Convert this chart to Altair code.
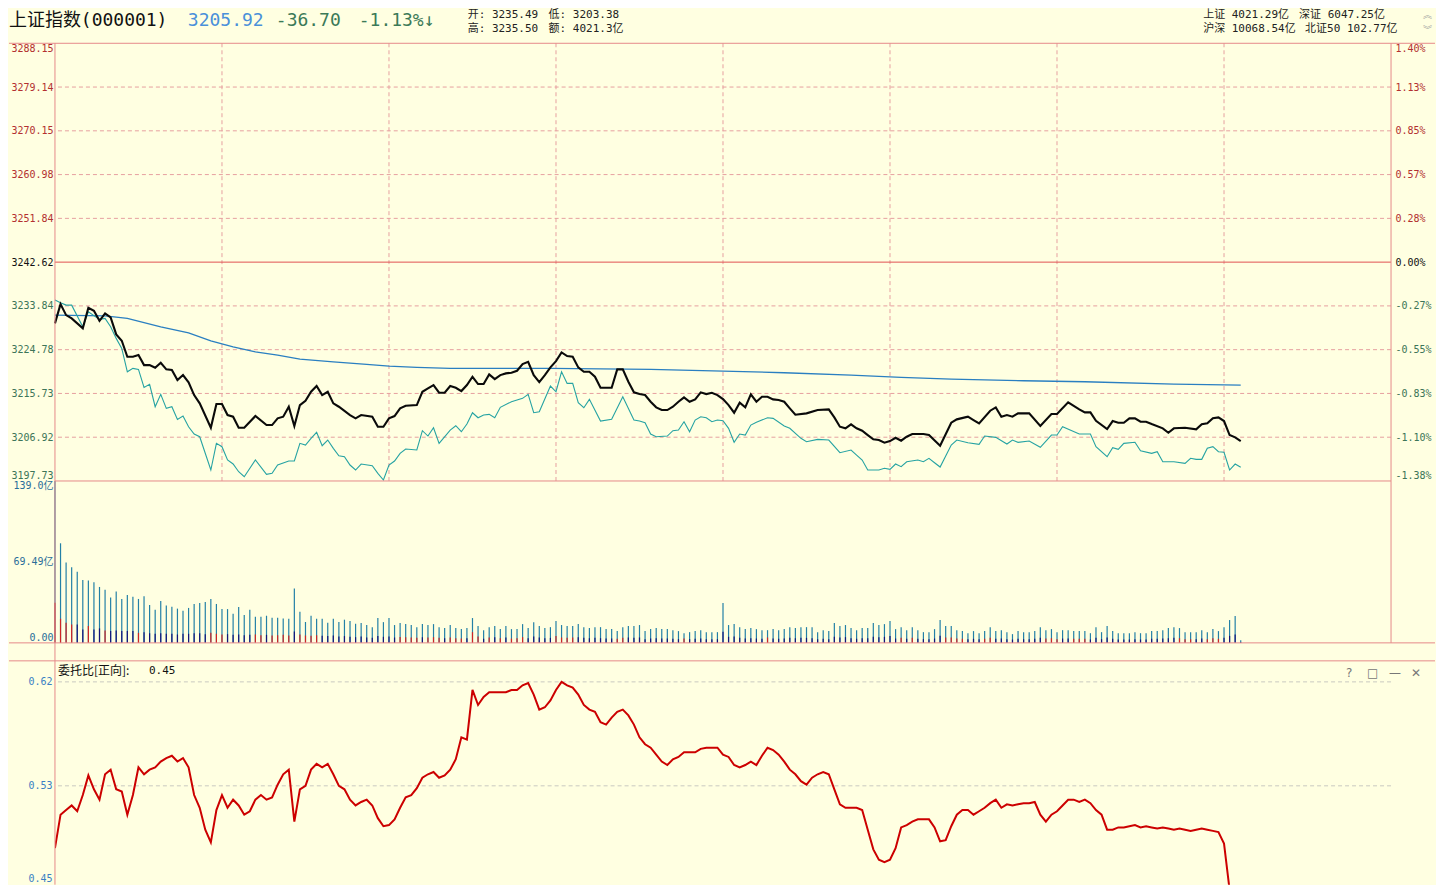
import altair as alt
import pandas as pd

# ---------------- values ----------------
REF_CLOSE = 3242.62
LAST = 3205.92
OPEN_P, HIGH_P, LOW_P = 3235.49, 3235.50, 3203.38
AMOUNT = "4021.3亿"
RATIO_NOW = 0.45
market_row1 = ["上证 4021.29亿", "深证 6047.25亿"]
market_row2 = ["沪深 10068.54亿", "北证50 102.77亿"]

price_labels = ["3197.73", "3206.92", "3215.73", "3224.78", "3233.84", "3242.62",
                "3251.84", "3260.98", "3270.15", "3279.14", "3288.15"]
pct_labels = ["-1.38%", "-1.10%", "-0.83%", "-0.55%", "-0.27%", "0.00%",
              "0.28%", "0.57%", "0.85%", "1.13%", "1.40%"]

black_min = [0, 1, 2, 3, 5, 6, 7, 8, 9, 10, 11, 12, 13, 14, 15, 16, 17, 18, 19, 20,
             21, 22, 23, 24, 25, 26, 28, 29, 30, 31, 32, 33, 34, 36, 38, 39, 40, 41, 42, 43,
             44, 45, 46, 47, 48, 49, 50, 51, 53, 54, 55, 57, 58, 59, 60, 61, 62, 63, 65, 66,
             67, 68, 69, 70, 71,
             72, 73, 74, 75, 76, 77, 78, 79, 80, 81, 82, 83, 84, 85, 86, 87, 88, 89, 90, 91,
             92, 93, 94, 95, 96, 97, 98,
             100, 101, 102, 103, 104, 105, 106, 107, 108, 109, 110, 111, 112, 113, 114, 115,
             116, 117, 118, 119, 120, 121, 122, 123, 124, 125, 126, 127, 128, 129, 130, 131,
             132, 133, 135, 137, 139,
             140, 141, 142, 143, 144, 145, 146, 147, 148, 149, 150, 151, 152, 153, 154,
             156, 157, 159,
             161, 162, 164, 165, 166, 168, 169, 170, 171, 172, 173, 175, 177, 179, 180,
             182, 184, 185, 186, 187, 189, 190, 191, 192, 193, 194, 195, 196, 197, 199,
             200, 201, 203, 205, 206, 207, 208, 209, 210, 211, 212, 213]
black_px = [3230.05, 3234.01, 3231.75, 3231.08, 3229.03, 3233.25, 3232.64, 3230.59, 3232.10, 3231.28,
            3227.80, 3226.49, 3223.21, 3223.21, 3223.55, 3221.50, 3221.50, 3220.95, 3221.98, 3220.62,
            3220.48, 3218.43, 3219.45, 3217.96, 3215.35, 3213.65, 3208.65, 3213.51, 3213.51, 3211.25,
            3210.91, 3208.65, 3208.65, 3211.05, 3209.20, 3209.20, 3210.58, 3210.91, 3212.96, 3209.00,
            3213.30, 3214.19, 3216.03, 3217.20, 3215.35, 3216.03, 3213.65, 3212.96, 3211.25, 3210.58,
            3211.25, 3210.91, 3208.86, 3208.86, 3210.58, 3211.05, 3212.63, 3213.16, 3213.30, 3216.03,
            3216.73, 3217.40, 3215.83, 3215.83, 3217.20,
            3216.85, 3216.17, 3217.40, 3219.11, 3217.61, 3217.61, 3219.60, 3218.63, 3219.45, 3219.80,
            3219.93, 3220.34, 3221.71, 3222.18, 3219.45, 3218.02, 3219.45, 3221.03, 3222.32, 3224.11,
            3223.35, 3223.21, 3221.03, 3220.13, 3220.13, 3219.11, 3216.85,
            3216.85, 3220.62, 3220.62, 3218.08, 3215.91, 3215.56, 3215.35, 3213.98, 3212.83, 3212.28,
            3212.28, 3212.96, 3213.98, 3214.88, 3213.98, 3214.47, 3215.91, 3215.56, 3215.83, 3215.35,
            3214.53, 3213.30, 3211.73, 3213.78, 3212.83, 3215.50, 3213.98, 3215.01, 3215.01, 3214.47,
            3214.33, 3213.98, 3212.63, 3211.32, 3211.60, 3212.28, 3212.42,
            3210.78, 3208.86, 3208.53, 3209.35, 3208.53, 3208.04, 3207.15, 3206.27, 3206.13, 3205.58,
            3205.92, 3206.60, 3205.99, 3206.81, 3207.36, 3207.36, 3207.15, 3204.96,
            3209.68, 3210.37, 3210.91, 3210.23, 3209.55, 3212.14, 3212.83, 3210.91, 3211.25, 3210.91,
            3211.60, 3211.60, 3209.00, 3211.46, 3211.46, 3213.86, 3212.42, 3211.81, 3211.81, 3210.09,
            3208.38, 3210.02, 3209.68, 3209.68, 3210.58, 3210.58, 3209.88, 3209.88, 3209.41, 3208.53,
            3207.63, 3208.53, 3208.65, 3208.32, 3209.35, 3209.55, 3210.58, 3210.78, 3210.02, 3207.15,
            3206.68, 3205.92]

cyan_min = [0, 1, 2, 3, 5, 6, 8, 9, 10, 11, 12, 13, 14, 15, 16, 17, 18, 19, 20, 21,
            22, 23, 24, 25, 26, 28, 29, 30, 31, 32, 33, 34, 36, 38, 39, 40, 42, 43, 44, 45,
            46, 47, 48, 49, 50, 51, 52, 53, 54, 55, 57, 58, 59, 60, 61, 62, 63, 65, 66, 67,
            68, 69, 71,
            72, 73, 74, 75, 76, 77, 78, 79, 80, 82, 84, 85, 86, 87, 89, 90, 91, 92, 93, 94,
            95, 96, 98, 100, 102, 104, 105, 106, 107, 108, 110, 111, 112, 113, 114, 115, 116, 117,
            118, 119, 120, 121, 122, 123, 124, 125, 126, 128, 129, 131, 132, 134, 135, 137, 139,
            141, 143, 144, 145, 146, 148, 149, 150, 151, 152, 153, 155, 156, 157, 158, 159,
            161, 162, 164, 166, 167, 169, 171, 172, 173, 175, 177, 179, 180, 181, 184, 186, 187,
            189, 190, 191, 192, 194, 195, 197, 198, 199, 201, 203, 204, 205, 206, 207, 208, 209,
            210, 211, 212, 213]
cyan_px = [3234.83, 3234.28, 3233.80, 3233.80, 3229.36, 3232.43, 3230.87, 3231.08, 3229.36, 3226.98,
           3224.93, 3220.13, 3220.83, 3220.62, 3216.93, 3217.55, 3212.96, 3215.50, 3212.63, 3212.96,
           3210.37, 3211.05, 3208.86, 3207.36, 3206.81, 3199.98, 3205.45, 3204.76, 3202.03, 3201.21,
           3199.63, 3198.61, 3202.03, 3199.10, 3199.30, 3201.00, 3201.82, 3201.82, 3205.45, 3205.10,
           3206.48, 3207.71, 3204.96, 3206.13, 3204.43, 3202.91, 3202.71, 3201.00, 3199.98, 3201.21,
           3200.86, 3199.30, 3197.93, 3201.00, 3201.82, 3203.40, 3204.28, 3204.08, 3208.04, 3206.95,
           3208.65, 3205.45, 3208.18,
           3209.06, 3207.83, 3209.41, 3211.73, 3210.70, 3211.25, 3211.40, 3210.70, 3212.83, 3213.98,
           3214.68, 3215.50, 3211.73, 3211.93, 3217.20, 3216.03, 3220.13, 3217.75, 3217.75, 3213.78,
           3212.75, 3214.47, 3210.02, 3210.37, 3215.01, 3210.23, 3210.02, 3209.68, 3207.36, 3206.81,
           3206.95, 3208.04, 3208.18, 3209.88, 3207.83, 3210.23, 3210.91, 3210.70, 3209.88, 3210.23,
           3210.09, 3208.53, 3205.66, 3207.36, 3207.15, 3209.20, 3209.76, 3210.70, 3210.58, 3209.00,
           3208.53, 3206.48, 3205.78, 3206.27, 3206.13, 3203.53, 3204.08, 3203.05, 3202.03, 3199.98,
           3199.98, 3200.33, 3200.12, 3201.21, 3200.66, 3201.68, 3202.03, 3201.68, 3202.38, 3201.48,
           3200.59,
           3205.10, 3206.13, 3205.58, 3205.25, 3206.95, 3206.68, 3205.31, 3206.13, 3205.66, 3205.92,
           3204.63, 3207.15, 3207.15, 3208.86, 3207.36, 3207.36, 3204.76, 3202.71, 3204.55, 3204.22,
           3205.45, 3205.66, 3203.94, 3203.40, 3203.73, 3201.68, 3201.68, 3201.35, 3202.38, 3202.17,
           3202.17, 3204.43, 3204.76, 3203.73, 3203.61, 3199.98, 3201.21, 3200.53]

avg_min = [0, 9, 13, 19, 24, 28, 32, 36, 40, 44, 50, 56, 60, 65, 71, 89, 107, 120, 131,
           143, 152, 161, 174, 185, 201, 213]
avg_px = [3231.75, 3231.61, 3231.08, 3229.36, 3228.13, 3226.49, 3225.26, 3224.23, 3223.55,
          3222.73, 3222.18, 3221.65, 3221.30, 3221.03, 3220.83, 3220.83, 3220.62, 3220.27,
          3219.93, 3219.45, 3218.98, 3218.63, 3218.29, 3218.08, 3217.61, 3217.40]

# per-minute turnover (亿), minute 0 .. 213
vol_amt = [139.0, 85.5, 69.0, 65.0, 61.0, 54.0, 53.5, 52.0, 48.0, 45.5, 39.0, 44.0, 37.7, 41.0,
           39.5, 37.7, 40.0, 32.5, 28.5, 36.0, 32.0, 31.0, 29.4, 27.6, 30.0, 33.4, 34.3, 35.0,
           37.7, 33.4, 29.0, 29.0, 25.0, 30.8, 24.0, 28.5, 22.5, 22.5, 23.3, 21.6, 21.6, 21.0,
           20.7, 46.6, 26.8, 17.9, 23.3, 20.7, 20.7, 17.3, 20.7, 18.0, 19.9,
           18.7, 16.4, 17.0, 15.3, 13.5, 21.3, 17.8, 21.3, 15.3, 17.0, 16.1, 15.3, 13.5, 16.1,
           15.3, 16.1, 13.5, 12.7, 15.3, 12.7, 11.8, 12.7, 21.3, 14.4, 10.9, 13.5, 14.4, 11.8,
           14.4, 11.8, 11.8, 16.1, 12.7, 17.8, 14.4, 12.7, 13.5, 18.7, 15.3, 14.4, 14.4, 16.1,
           13.5, 12.7, 13.5, 13.5, 11.8, 11.8, 10.1, 13.5, 14.4, 14.4, 15.3, 10.1,
           11.8, 12.7, 11.8, 11.8, 10.9, 10.1, 8.3, 9.2, 10.1, 10.9, 9.2, 9.2, 9.2, 34.3, 15.3,
           16.1, 13.5, 11.8, 12.7, 11.8, 10.9, 10.9, 11.8, 10.9, 11.8, 13.5, 12.7, 13.5, 13.5,
           13.5, 9.2, 10.9, 10.1, 17.0, 14.4, 15.3, 12.7, 10.9, 12.7, 12.7, 17.0, 15.3, 16.1,
           18.7, 11.8, 13.5, 10.9, 13.5, 10.9, 9.2, 9.2, 11.8, 19.6,
           14.4, 14.4, 10.9, 10.1, 8.3, 10.1, 8.3, 10.1, 13.5, 10.1, 10.9, 9.2, 7.5, 10.1, 9.2,
           9.2, 10.1, 13.5, 10.9, 11.8, 9.2, 10.9, 10.9, 10.1, 10.1, 10.1, 8.3, 13.5, 9.2, 14.4,
           10.1, 8.3, 8.3, 8.3, 9.2, 8.3, 8.3, 10.1, 10.1, 10.9, 12.7, 13.5, 12.7, 9.2, 9.2, 9.2,
           10.9, 9.2, 11.8, 10.1, 13.5, 19.6, 23.0, 2.3]
# lower (dark) part of each volume bar
flow_amt = [34.5, 20.7, 17.3, 15.8, 15.8, 11.5, 14.4, 11.5, 12.4, 10.7, 10.1, 10.7, 10.1, 10.1,
            10.1, 8.6, 9.2, 8.3, 7.8, 8.3, 7.8, 7.8, 7.2, 7.8, 7.8, 8.3, 8.3,
            7.5, 8.6, 7.8, 7.2, 7.5, 6.9, 7.2, 6.6, 6.9, 7.2, 6.6, 6.9, 6.3, 6.6, 6.9, 6.3, 9.8,
            7.2, 6.3, 6.0, 6.6, 6.0, 5.8, 6.3, 5.5, 5.8,
            5.2, 4.9, 5.5, 4.6, 4.3, 5.8, 5.2, 5.5, 4.6, 5.0, 4.9, 4.6, 4.3, 4.9, 4.6, 4.9, 4.3,
            4.0, 4.6, 4.0, 3.7, 4.0, 9.2, 5.5, 3.5, 4.6, 4.9, 4.0, 4.6, 3.7, 4.0, 4.9, 4.0, 5.5,
            4.6, 4.0, 4.3, 5.8, 4.6, 4.3, 4.6, 4.9, 4.3, 4.0, 4.3, 4.0, 3.7, 3.7, 3.5, 4.3, 4.6,
            4.3, 4.6, 3.2,
            3.7, 4.0, 3.7, 3.7, 3.5, 3.2, 3.7, 3.2, 3.5, 3.7, 3.2, 3.2, 3.2, 9.5, 5.2, 5.5, 4.3,
            3.7, 4.0, 3.7, 3.5, 4.6, 3.7, 3.5, 3.7, 4.3, 4.0, 4.3, 4.3, 4.0, 3.2, 3.5, 3.2, 5.2,
            4.6, 4.9, 4.0, 3.5, 4.0, 4.0, 5.2, 4.9, 5.2, 5.8, 3.7, 4.3, 3.5, 4.3, 3.5, 3.2, 3.2,
            3.7, 6.0,
            4.6, 4.6, 3.7, 3.5, 3.2, 3.5, 3.2, 3.5, 4.3, 3.5, 3.7, 3.2, 2.9, 3.5, 3.2, 3.2, 3.5,
            4.3, 3.7, 4.0, 3.2, 3.7, 3.7, 3.5, 3.5, 3.5, 2.9, 4.3, 3.2, 4.6, 3.5, 2.9, 2.9, 2.9,
            3.2, 2.9, 2.9, 3.5, 3.5, 3.7, 4.0, 4.3, 4.0, 3.2, 3.2, 3.2, 3.7, 3.2, 4.0, 3.5, 4.3,
            6.0, 7.2, 0.8]
up_minutes = [0, 1, 2, 3, 6, 9, 15, 28, 29, 30, 36, 37, 39, 40, 41, 42, 44, 45, 46, 47,
              62, 63, 64, 65, 67, 68, 69, 71, 72, 73, 75, 76, 78, 80, 82, 83, 84, 90, 91, 92,
              93, 101, 102, 113, 128, 152, 154, 160, 161, 162, 163, 167, 168, 178, 179, 180,
              183, 184, 185, 202, 203, 204, 207, 208, 209]

# 委托比 per minute, minute 0 .. 213
ratio_vals = [0.476, 0.505, 0.509, 0.513, 0.508, 0.522, 0.539, 0.527, 0.518, 0.540,
              0.544, 0.527, 0.525, 0.505, 0.522, 0.546, 0.540, 0.544, 0.546, 0.551,
              0.554, 0.556, 0.551, 0.554, 0.546, 0.522, 0.511, 0.492, 0.481, 0.509,
              0.522, 0.511, 0.518, 0.513, 0.505, 0.508, 0.518, 0.522, 0.518, 0.520,
              0.531, 0.540, 0.544, 0.499, 0.527, 0.530, 0.544, 0.549, 0.546, 0.549,
              0.540, 0.530, 0.527, 0.518, 0.513, 0.516, 0.518, 0.513, 0.502, 0.495,
              0.496, 0.501, 0.511, 0.520, 0.522, 0.528, 0.537, 0.540, 0.542, 0.537,
              0.539, 0.544, 0.553, 0.572, 0.570, 0.613, 0.600, 0.607, 0.611, 0.611,
              0.611, 0.611, 0.613, 0.613, 0.617, 0.619, 0.609, 0.596, 0.598, 0.604,
              0.613, 0.620, 0.617, 0.615, 0.609, 0.600, 0.596, 0.594, 0.585, 0.583,
              0.589, 0.594, 0.596, 0.591, 0.583, 0.572, 0.566, 0.563, 0.557, 0.551,
              0.548, 0.553, 0.555, 0.559, 0.559, 0.559, 0.562, 0.563, 0.563, 0.563,
              0.557, 0.555, 0.548, 0.546, 0.548, 0.551, 0.548, 0.556, 0.563, 0.561,
              0.557, 0.551, 0.544, 0.540, 0.534, 0.531, 0.537, 0.540, 0.542, 0.540,
              0.527, 0.514, 0.511, 0.511, 0.511, 0.509, 0.492, 0.475, 0.466, 0.464,
              0.466, 0.476, 0.494, 0.496, 0.499, 0.501, 0.501, 0.501, 0.494, 0.482,
              0.483, 0.495, 0.505, 0.509, 0.509, 0.505, 0.508, 0.511, 0.515, 0.518,
              0.511, 0.514, 0.513, 0.514, 0.515, 0.515, 0.516, 0.505, 0.499, 0.505,
              0.508, 0.513, 0.518, 0.518, 0.516, 0.518, 0.515, 0.509, 0.505, 0.492,
              0.492, 0.494, 0.494, 0.495, 0.496, 0.494, 0.495, 0.494, 0.493, 0.494,
              0.493, 0.492, 0.493, 0.492, 0.491, 0.492, 0.493, 0.492, 0.491, 0.490,
              0.480, 0.440, 0.435, 0.435]

time_ticks = [0, 60, 120, 180, 240]
time_labels = ["25/01/22", "10:30", "11:30", "14:00", "15:00"]
vol_ticks = [0.0, 69.49, 139.0]
vol_labels = ["0.00", "69.49亿", "139.0亿"]
ratio_ticks = [0.45, 0.53, 0.62]
ratio_labels = ["0.45", "0.53", "0.62"]

# ---------------- styling / layout ----------------
BG = "#FFFFE1"
BORDER = "#E58A8A"
GRID = "#E6A0A0"
ZERO = "#E05050"
UP_TXT = "#B33030"
DN_TXT = "#3D7558"
MONO = "DejaVu Sans Mono, Noto Sans CJK SC"
CJK = "Noto Sans CJK SC"

W = 1337                      # plot width
MAIN_TOP, MAIN_BOT = 0, 438   # price panel
VOL_TOP, VOL_BOT = 438, 600   # turnover panel
RAT_TOP, RAT_BOT = 618, 842   # 委托比 panel
H = RAT_BOT
STEP = 8.978
price_ticks = [REF_CLOSE + k * STEP for k in range(-5, 6)]


def js_list(items):
    return "[" + ",".join("'" + s + "'" for s in items) + "]"


xs = alt.Scale(domain=[0, 240], nice=False, zero=False)
X_NONE = alt.X("m:Q", scale=xs, axis=None)


def pscale():
    return alt.Scale(domain=[price_ticks[0], price_ticks[-1]], range=[MAIN_BOT, MAIN_TOP],
                     nice=False, zero=False)


def vscale():
    return alt.Scale(domain=[0, vol_ticks[-1]], range=[VOL_BOT, VOL_TOP], nice=False, zero=False)


def rscale():
    return alt.Scale(domain=[0.4444, 0.6382], range=[RAT_BOT, RAT_TOP], nice=False, zero=False)


one = pd.DataFrame({"a": [0]})


def hrule(yv, x1, x2, color=BORDER):
    return alt.Chart(one).mark_rule(color=color, strokeWidth=1).encode(
        x=alt.value(x1), x2=alt.value(x2), y=alt.value(yv))


def vrule(xv, y1, y2, color=BORDER):
    return alt.Chart(one).mark_rule(color=color, strokeWidth=1).encode(
        x=alt.value(xv), y=alt.value(y1), y2=alt.value(y2))


def htext(txt, x, y, size, color, font=MONO):
    return alt.Chart(one).mark_text(text=txt, align="left", baseline="middle", font=font,
                                    fontSize=size, color=color).encode(
        x=alt.value(x), y=alt.value(y))


# ---------------- header ----------------
chg = LAST - REF_CLOSE
pct = chg / REF_CLOSE * 100
header = [
    hrule(-34.5, -46, 1381, BG),
    htext("上证指数(000001)", -46, -22, 18, "#111111"),
    htext(f"{LAST:.2f}", 133, -22, 18, "#4A90DA"),
    htext(f"{chg:.2f}", 221, -22, 18, "#3B7A58"),
    htext(f"{pct:.2f}%↓", 304, -22, 18, "#3B7A58"),
    htext(f"开: {OPEN_P:.2f}", 413, -28, 11, "#222222"),
    htext(f"低: {LOW_P:.2f}", 494, -28, 11, "#222222"),
    htext(f"高: {HIGH_P:.2f}", 413, -14, 11, "#222222"),
    htext(f"额: {AMOUNT}", 494, -14, 11, "#222222"),
    htext(market_row1[0], 1149, -28, 11, "#222222"),
    htext(market_row1[1], 1245, -28, 11, "#222222"),
    htext(market_row2[0], 1149, -14, 11, "#222222"),
    htext(market_row2[1], 1251, -14, 11, "#222222"),
    htext("︽", 1369, -28, 9, "#A0A0A0", CJK),
    htext("︾", 1369, -13, 9, "#A0A0A0", CJK),
]

# ---------------- price panel ----------------
idx_expr = f"round((datum.value - {REF_CLOSE}) / {STEP}) + 5"
label_color = {"condition": [{"test": f"datum.value > {REF_CLOSE + 1}", "value": UP_TXT},
                             {"test": f"datum.value < {REF_CLOSE - 1}", "value": DN_TXT}],
               "value": "#111111"}

hgrid = alt.Chart(pd.DataFrame({"p": [t for i, t in enumerate(price_ticks) if i not in (0, 5, 10)]})
                  ).mark_rule(color=GRID, strokeDash=[4, 3]).encode(
    y=alt.Y("p:Q", scale=pscale(), axis=None))
vgrid = alt.Chart(pd.DataFrame({"m": [30, 60, 90, 120, 150, 180, 210]})).mark_rule(
    color=GRID, strokeDash=[4, 3]).encode(x=X_NONE, y=alt.value(MAIN_TOP), y2=alt.value(MAIN_BOT))
zero_rule = alt.Chart(pd.DataFrame({"p": [REF_CLOSE]})).mark_rule(color=ZERO).encode(
    y=alt.Y("p:Q", scale=pscale(), axis=None))

avg_line = alt.Chart(pd.DataFrame({"m": avg_min, "p": avg_px})).mark_line(
    color="#2A7FC1", strokeWidth=1.3).encode(x=X_NONE, y=alt.Y("p:Q", scale=pscale(), axis=None))
cyan_line = alt.Chart(pd.DataFrame({"m": cyan_min, "p": cyan_px})).mark_line(
    color="#26A3A3", strokeWidth=1.1).encode(x=X_NONE, y=alt.Y("p:Q", scale=pscale(), axis=None))
black_line = alt.Chart(pd.DataFrame({"m": black_min, "p": black_px})).mark_line(
    color="#0A0A0A", strokeWidth=2.1).encode(x=X_NONE, y=alt.Y("p:Q", scale=pscale(), axis=None))

ticks_df = pd.DataFrame({"p": price_ticks})
left_ax = alt.Chart(ticks_df).mark_rule(opacity=0).encode(
    y=alt.Y("p:Q", scale=pscale(), axis=alt.Axis(
        orient="left", values=price_ticks, labelExpr=f"{js_list(price_labels)}[{idx_expr}]",
        title=None, labelFont=MONO, labelFontSize=10, labelPadding=2, labelColor=label_color,
        ticks=False, domain=False, grid=False, labelFlush=True)))
right_ax = alt.Chart(ticks_df).mark_rule(opacity=0).encode(
    y=alt.Y("p:Q", scale=pscale(), axis=alt.Axis(
        orient="right", values=price_ticks, labelExpr=f"{js_list(pct_labels)}[{idx_expr}]",
        title=None, labelFont=MONO, labelFontSize=10, labelPadding=4, labelColor=label_color,
        ticks=False, domain=False, grid=False, labelFlush=True)))

# ---------------- turnover panel ----------------
vol_df = pd.DataFrame({"m": list(range(len(vol_amt))), "v": vol_amt, "z": 0.0})
flow_df = pd.DataFrame({"m": list(range(len(flow_amt))), "f": flow_amt, "z": 0.0})
flow_df["dir"] = ["up" if m in up_minutes else "down" for m in flow_df["m"]]

time_expr = " : ".join(f"datum.value == {t} ? '{l}'" for t, l in zip(time_ticks, time_labels)) + " : ''"
vol_expr = " : ".join(f"datum.value == {t} ? '{l}'" for t, l in zip(vol_ticks, vol_labels)) + " : ''"

vol_bars = alt.Chart(vol_df).mark_rule(color="#2380A6", strokeWidth=1.2).encode(
    x=alt.X("m:Q", scale=xs, axis=alt.Axis(
        orient="bottom", values=list(range(0, 241, 30)), labelExpr=time_expr, title=None,
        labelFlush=True, labelFont=MONO, labelFontSize=11, labelColor="#E07C7C",
        tickColor=BORDER, tickSize=4, labelPadding=-2, domainColor=BORDER, grid=False,
        offset=VOL_BOT - H)),
    y=alt.Y("v:Q", scale=vscale(), axis=alt.Axis(
        orient="left", values=vol_ticks, labelExpr=vol_expr, title=None, labelFlush=True,
        labelFont=MONO, labelFontSize=10, labelColor="#2B6E9A", labelPadding=2, ticks=False,
        domain=False, grid=False)),
    y2="z:Q")
flow_bars = alt.Chart(flow_df).mark_rule(strokeWidth=1.2).encode(
    x=X_NONE, y=alt.Y("f:Q", scale=vscale(), axis=None), y2="z:Q",
    color=alt.Color("dir:N", scale=alt.Scale(domain=["up", "down"], range=["#D02424", "#14147A"]),
                    legend=None))

# ---------------- 委托比 panel ----------------
ratio_df = pd.DataFrame({"m": list(range(len(ratio_vals))), "r": ratio_vals})
ratio_expr = " : ".join(f"datum.value == {t} ? '{l}'" for t, l in zip(ratio_ticks, ratio_labels)) + " : ''"

ratio_grid = alt.Chart(pd.DataFrame({"r": ratio_ticks[1:]})).mark_rule(
    color="#C9C9C0", strokeDash=[4, 3]).encode(y=alt.Y("r:Q", scale=rscale(), axis=None))
ratio_line = alt.Chart(ratio_df).mark_line(color="#CC0000", strokeWidth=2, clip=True).encode(
    x=X_NONE, y=alt.Y("r:Q", scale=rscale(), axis=None))
ratio_ax = alt.Chart(pd.DataFrame({"r": ratio_ticks})).mark_rule(opacity=0).encode(
    y=alt.Y("r:Q", scale=rscale(), axis=alt.Axis(
        orient="left", values=ratio_ticks, labelExpr=ratio_expr, title=None, labelFont=MONO,
        labelFontSize=10, labelColor="#3A7FC4", labelPadding=3, ticks=False, domain=False,
        grid=False)))

frame = [
    hrule(MAIN_TOP, -46, 1381),           # top separator (full width)
    hrule(VOL_TOP, 0, W),                 # price / turnover border
    hrule(VOL_BOT, -46, 1381),            # time-axis line (full width)
    hrule(RAT_TOP, -46, 1381),            # 委托比 separator (full width)
    vrule(0, MAIN_TOP, H),                # left border
    vrule(W, MAIN_TOP, VOL_BOT),          # right border
]

panel_text = [
    htext("委托比[正向]:", 3, RAT_TOP + 10, 12, "#111111", CJK),
    htext(f"{RATIO_NOW:.2f}", 94, RAT_TOP + 10, 11, "#111111"),
    htext("?", 1292, RAT_TOP + 12, 12, "#777777", "DejaVu Sans"),
    htext("□", 1313, RAT_TOP + 12, 12, "#777777", "DejaVu Sans"),
    htext("—", 1335, RAT_TOP + 12, 12, "#777777", "DejaVu Sans"),
    htext("✕", 1357, RAT_TOP + 12, 12, "#777777", "DejaVu Sans"),
]

layers = (header + [hgrid, vgrid, zero_rule, ratio_grid, vol_bars, flow_bars,
                    avg_line, cyan_line, black_line, ratio_line,
                    left_ax, right_ax, ratio_ax] + frame + panel_text)

chart = alt.layer(*layers).resolve_scale(y="independent").properties(
    width=W, height=H, padding=0, background=BG
).configure_view(stroke="transparent")

chart.save("out.html", embed_options={"renderer": "svg", "actions": False})
